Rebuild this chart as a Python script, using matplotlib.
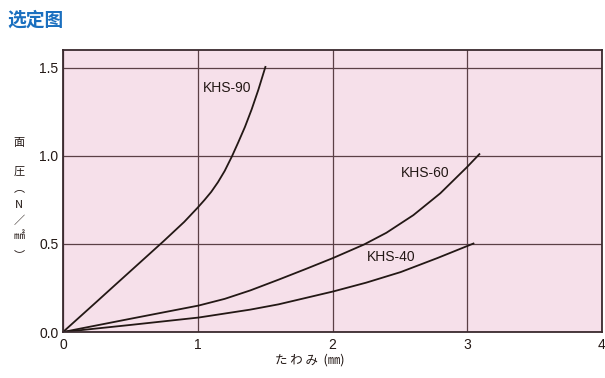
import matplotlib
matplotlib.use('Agg')
import matplotlib.pyplot as plt

plt.rcParams['font.family'] = ['Noto Sans CJK JP', 'DejaVu Sans']

# deflection (mm) vs surface pressure (N/mm2)
khs90_x = [0, 0.25, 0.374, 0.5, 0.746, 0.9, 1.0, 1.05, 1.1, 1.15, 1.2, 1.254, 1.3, 1.35, 1.4, 1.45, 1.502]
khs90_y = [0, 0.172, 0.258, 0.345, 0.515, 0.625, 0.706, 0.749, 0.795, 0.850, 0.914, 0.997, 1.075, 1.163, 1.263, 1.375, 1.504]

khs60_x = [0, 0.5, 1.006, 1.2, 1.39, 1.6, 1.8, 2.005, 2.233, 2.4, 2.6, 2.8, 3.0, 3.09]
khs60_y = [0, 0.075, 0.150, 0.188, 0.236, 0.297, 0.357, 0.42, 0.496, 0.563, 0.663, 0.787, 0.937, 1.009]

khs40_x = [0, 0.5, 1.006, 1.39, 1.6, 2.005, 2.25, 2.506, 2.78, 3.046]
khs40_y = [0, 0.04, 0.082, 0.127, 0.157, 0.23, 0.28, 0.34, 0.42, 0.502]

labels = ['KHS-90', 'KHS-60', 'KHS-40']
label_pos = [(1.04, 1.385), (2.505, 0.90), (2.253, 0.428)]

W, H = 605, 378
fig = plt.figure(figsize=(W / 100, H / 100), dpi=100)
ax = fig.add_axes([63 / W, 1 - 332 / H, (602 - 63) / W, (332 - 50) / H])
ax.set_facecolor('#f6e0ea')

ax.set_xlim(0, 4)
ax.set_ylim(0, 1.6)
ax.set_xticks([0, 1, 2, 3, 4])
ax.set_yticks([0, 0.5, 1.0, 1.5])
ax.set_yticklabels(['0.0', '0.5', '1.0', '1.5'])
ax.tick_params(length=0, labelsize=10, colors='#231815')
ax.tick_params(axis='y', pad=3.4)
ax.tick_params(axis='x', pad=4.3)
for t in ax.get_xticklabels() + ax.get_yticklabels():
    t.set_family('Liberation Sans')
ax.grid(True, color='#5b4046', linewidth=0.9)
ax.set_axisbelow(True)
for s in ax.spines.values():
    s.set_color('#3a2a2e')
    s.set_linewidth(1.3)

line_col = '#231815'
for xs, ys in [(khs90_x, khs90_y), (khs60_x, khs60_y), (khs40_x, khs40_y)]:
    ax.plot(xs, ys, color=line_col, linewidth=1.3, solid_joinstyle='round')

for lab, (lx, ly) in zip(labels, label_pos):
    ax.text(lx, ly, lab, fontsize=10, color=line_col, va='center', ha='left',
            family='Liberation Sans')

fig.text(310 / W, 1 - 360 / H, 'た わ み  (㎜)', fontsize=9, color=line_col,
         ha='center', va='center')

# vertical y label
ychars = [('面', 143), ('圧', 172), ('︵', 188), ('N', 205), ('／', 221), ('㎟', 236), ('︶', 255)]
for ch, py in ychars:
    fig.text(19 / W, 1 - py / H, ch, fontsize=8, color=line_col, ha='center', va='center')

fig.text(7 / W, 1 - 20 / H, '选定图', fontsize=13.5, fontweight='bold', color='#1a6fbf',
         ha='left', va='center', family=['Noto Sans CJK SC', 'DejaVu Sans'])

fig.savefig('out.png', dpi=100)
